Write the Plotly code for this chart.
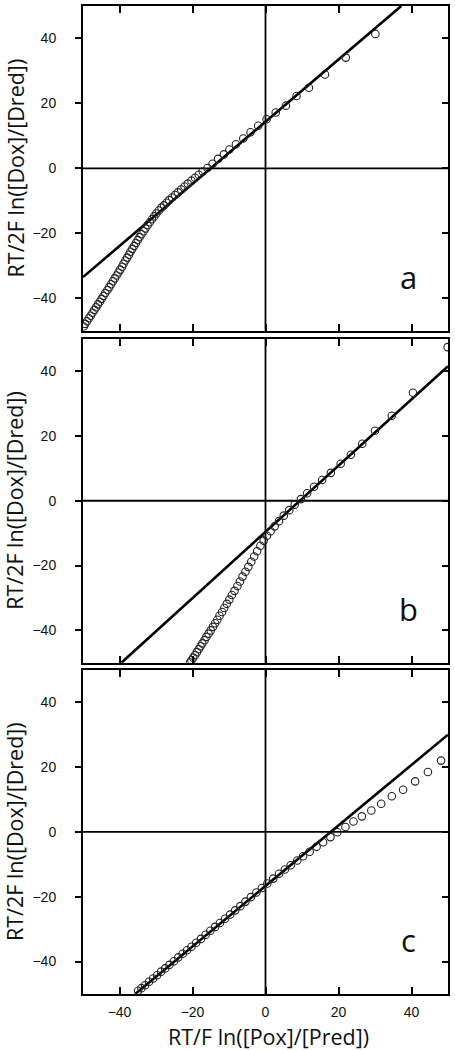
import plotly.graph_objects as go

# panel a
a_x = [30.1, 22.0, 16.3, 11.9, 8.5, 5.6, 2.8, 0.3, -2.0, -4.1, -6.1, -8.1, -9.9, -11.4, -13.0, -14.5, -15.9,
       -17.2, -18.3, -19.3, -20.3, -21.3, -22.2, -23.1, -24.0, -24.8, -25.6, -26.4, -27.1, -27.8, -28.5,
       -29.2, -29.9, -30.5, -31.1, -31.7, -32.3, -32.9, -33.4, -34.0, -34.5, -35.0, -35.5, -36.0, -36.5,
       -37.0, -37.4, -37.9, -38.4, -38.9, -39.3, -39.8, -40.3, -40.8, -41.3, -41.8, -42.3, -42.8, -43.3,
       -43.9, -44.4, -44.9, -45.4, -45.9, -46.4, -46.9, -47.4, -47.9, -48.4, -48.9, -49.4, -49.8]
a_y = [41.4, 34.1, 28.9, 24.8, 22.3, 19.3, 17.2, 15.1, 13.1, 11.1, 9.2, 7.4, 5.8, 4.3, 2.9, 1.4, 0.1,
       -1.0, -2.0, -2.9, -3.8, -4.7, -5.6, -6.5, -7.4, -8.2, -9.0, -9.8, -10.6, -11.4, -12.1,
       -13.0, -13.9, -14.8, -15.7, -16.6, -17.5, -18.5, -19.4, -20.3, -21.2, -22.1, -23.0, -23.9, -24.8,
       -25.7, -26.6, -27.5, -28.4, -29.4, -30.3, -31.2, -32.1, -33.0, -33.9, -34.8, -35.7, -36.6, -37.5,
       -38.4, -39.3, -40.2, -41.1, -41.9, -42.8, -43.6, -44.5, -45.4, -46.2, -47.1, -47.9, -48.7]
a_fit_x = [-50, 37.2]
a_fit_y = [-33.5, 50]

# panel b
b_x = [49.9, 40.4, 34.6, 30.0, 26.5, 23.4, 20.6, 17.9, 15.5, 13.3, 11.4, 9.7, 8.0, 6.5, 5.0, 3.7, 2.5, 1.4, 0.4,
       -0.5, -1.4, -2.3, -3.1, -3.9, -4.7, -5.5, -6.3, -7.0, -7.7, -8.5, -9.2, -9.9, -10.6, -11.3, -11.9, -12.6,
       -13.2, -13.8, -14.4, -15.0, -15.6, -16.2, -16.7, -17.3, -17.8, -18.3, -18.8, -19.3, -19.8, -20.3, -20.7]
b_y = [47.4, 33.3, 26.2, 21.6, 17.6, 14.2, 11.4, 8.6, 6.4, 4.3, 2.3, 0.5, -1.2, -2.9, -4.6, -6.3, -7.9, -9.4, -10.8,
       -12.3, -13.9, -15.6, -17.2, -18.8, -20.4, -21.9, -23.4, -24.9, -26.3, -27.8, -29.1, -30.5, -31.8, -33.1, -34.3, -35.5,
       -36.7, -37.8, -38.9, -40.0, -41.0, -42.0, -43.0, -44.0, -44.9, -45.8, -46.7, -47.6, -48.4, -49.2, -49.9]
b_fit_x = [-39.5, 50]
b_fit_y = [-50, 41.5]

# panel c
c_x = [48.1, 44.5, 41.0, 37.7, 34.6, 31.7, 29.0, 26.4, 24.1, 21.9, 19.7, 17.8, 15.8, 14.0, 12.1, 10.3, 8.7, 6.9, 5.3, 3.7,
       2.1, 0.5, -1.0, -2.5, -4.0, -5.5, -6.9, -8.3, -9.7, -11.1, -12.5, -13.8, -15.1, -16.4, -17.7, -19.0, -20.3, -21.5, -22.7, -23.9,
       -25.1, -26.3, -27.5, -28.6, -29.7, -30.8, -31.9, -33.0, -34.0, -34.9]
c_y = [22.0, 18.5, 15.6, 13.0, 11.0, 8.7, 6.6, 4.8, 3.2, 1.5, -0.1, -1.6, -3.2, -4.6, -6.1, -7.5, -8.8, -10.3, -11.6, -12.9,
       -14.4, -15.9, -17.3, -18.7, -20.1, -21.5, -22.9, -24.2, -25.5, -26.8, -28.1, -29.3, -30.5, -31.7, -33.0, -34.2, -35.4, -36.5, -37.6, -38.7,
       -39.9, -41.0, -42.1, -43.1, -44.2, -45.2, -46.2, -47.3, -48.2, -49.0]
c_fit_x = [-35.7, 50]
c_fit_y = [-50, 30]

panel_letters = ["a", "b", "c"]
ticks = [-40, -20, 0, 20, 40]
y_title = "RT/2F ln([Dox]/[Dred])"
x_title = "RT/F ln([Pox]/[Pred])"

panels = [(a_x, a_y, a_fit_x, a_fit_y), (b_x, b_y, b_fit_x, b_fit_y), (c_x, c_y, c_fit_x, c_fit_y)]
domains = [[0.6714, 1.0], [0.3352, 0.6633], [0.0, 0.3281]]

fig = go.Figure()
tick_font = dict(family="Liberation Sans, Arial", size=14, color="#111")
title_font = dict(family="Open Sans", size=21.5, color="#111")

for i, (px_, py_, fx, fy) in enumerate(panels):
    n = i + 1
    xa = "x" if n == 1 else f"x{n}"
    ya = "y" if n == 1 else f"y{n}"
    fig.add_trace(go.Scatter(x=fx, y=fy, mode="lines", xaxis=xa, yaxis=ya,
                             line=dict(color="black", width=2.6), showlegend=False, hoverinfo="skip"))
    fig.add_trace(go.Scatter(x=px_, y=py_, mode="markers", xaxis=xa, yaxis=ya, showlegend=False,
                             marker=dict(symbol="circle-open", size=7.5, color="#222", line=dict(width=1.1))))
    # dummy trace so the right-hand inner ticks get drawn
    ra = f"y{n + 3}"
    fig.add_trace(go.Scatter(x=[0], y=[0], mode="markers", xaxis=xa, yaxis=ra, opacity=0,
                             showlegend=False, hoverinfo="skip"))

    xkey = "xaxis" if n == 1 else f"xaxis{n}"
    ykey = "yaxis" if n == 1 else f"yaxis{n}"
    fig.layout[xkey] = dict(range=[-50, 50], anchor=ya, domain=[0, 1], tickvals=ticks,
                            ticks="inside", ticklen=7, tickwidth=1.5, tickcolor="black",
                            showticklabels=(n == 3), tickfont=tick_font, ticklabelstandoff=4,
                            showline=True, linecolor="black", linewidth=2, mirror="ticks",
                            showgrid=False, zeroline=False)
    fig.layout[ykey] = dict(range=[-50, 50], anchor=xa, domain=domains[i], tickvals=ticks,
                            ticks="outside", ticklen=6, tickwidth=1.5, tickcolor="black",
                            tickfont=tick_font, ticklabelstandoff=16,
                            showline=True, linecolor="black", linewidth=2, mirror=True,
                            showgrid=False, zeroline=False)
    fig.layout[f"yaxis{n + 3}"] = dict(range=[-50, 50], overlaying=ya, anchor=xa, side="right",
                                       tickvals=ticks, ticks="inside", ticklen=6, tickwidth=1.5,
                                       tickcolor="black", showticklabels=False, showline=False,
                                       showgrid=False, zeroline=False)

    # zero lines
    fig.add_shape(type="line", x0=0, x1=0, y0=-50, y1=50, xref=xa, yref=ya,
                  line=dict(color="black", width=1.8), layer="below")
    fig.add_shape(type="line", x0=-50, x1=50, y0=0, y1=0, xref=xa, yref=ya,
                  line=dict(color="black", width=1.8), layer="below")

    fig.add_annotation(x=39.2, y=-40.5, xref=xa, yref=ya, text=panel_letters[i], showarrow=False,
                       xanchor="center", yanchor="bottom",
                       font=dict(family="Open Sans", size=31, color="#111"))
    fig.add_annotation(x=-0.186, y=(domains[i][0] + domains[i][1]) / 2, xref="paper", yref="paper",
                       text=y_title, textangle=-90, showarrow=False, font=title_font,
                       xanchor="center", yanchor="middle")

fig.add_annotation(x=0.508, y=-0.0426, xref="paper", yref="paper", text=x_title, showarrow=False,
                   font=title_font, xanchor="center", yanchor="middle")

fig.update_layout(width=455, height=1050, margin=dict(l=83, r=7, t=4, b=55.5),
                  paper_bgcolor="white", plot_bgcolor="white")

# the page's default 8px body margin would push the chart off the window
fig.write_html("out.html", config={"displayModeBar": False},
               post_script="document.body.style.margin='0';")
